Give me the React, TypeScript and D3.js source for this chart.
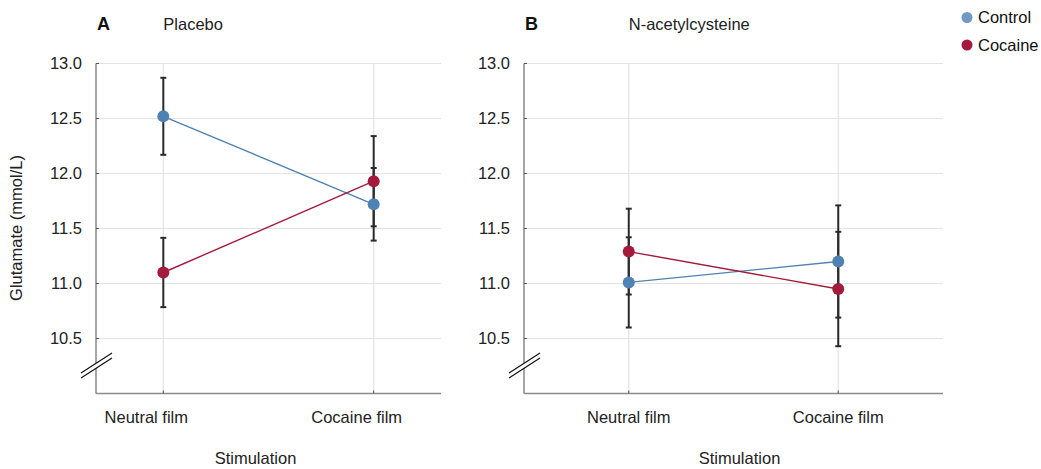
import React from "react";
import * as d3 from "d3";

const conditions = ["Neutral film", "Cocaine film"];
const groups = ["Control", "Cocaine"];

// Panel A: Placebo
const placeboControl = [12.52, 11.72];
const placeboControlErr = [0.35, 0.33];
const placeboCocaine = [11.1, 11.93];
const placeboCocaineErr = [0.315, 0.41];

// Panel B: N-acetylcysteine
const nacControl = [11.01, 11.2];
const nacControlErr = [0.41, 0.51];
const nacCocaine = [11.29, 10.95];
const nacCocaineErr = [0.39, 0.52];

const yTicks = [10.5, 11.0, 11.5, 12.0, 12.5, 13.0];
const yDomain: [number, number] = [10, 13];

const lineColors: Record<string, string> = { Control: "#4f82b3", Cocaine: "#a31a3c" };
const legendColors: Record<string, string> = { Control: "#6f98c2", Cocaine: "#a31a3c" };

const FONT = "'Liberation Sans', Arial, Helvetica, sans-serif";
const FS = 16.5;

type Series = { name: string; values: number[]; errs: number[] };

function Panel(props: {
  letter: string;
  title: string;
  x0: number;
  x1: number;
  padding: number;
  labelDx: number;
  stimDx: number;
  series: Series[];
}) {
  const { letter, title, x0, x1, padding, labelDx, stimDx, series } = props;
  const yTop = 63.5;
  const yBot = 393.5;
  const x = d3.scalePoint<string>().domain(conditions).range([x0, x1]).padding(padding);
  const y = d3.scaleLinear().domain(yDomain).range([yBot, yTop]);
  const line = d3
    .line<number>()
    .x((_, i) => x(conditions[i]) as number)
    .y((v) => y(v));

  const breakY = 368;
  return (
    <g>
      {/* grid */}
      {yTicks.map((t) => (
        <line key={"gy" + t} x1={x0} x2={x1} y1={y(t)} y2={y(t)} stroke="#e3e3e3" strokeWidth={1.2} />
      ))}
      {conditions.map((c) => (
        <line key={"gx" + c} x1={x(c)} x2={x(c)} y1={yTop} y2={yBot} stroke="#e3e3e3" strokeWidth={1.2} />
      ))}
      {/* axes */}
      <line x1={x0} x2={x0} y1={yTop} y2={yBot} stroke="#6a6a6a" strokeWidth={1.2} />
      <line x1={x0} x2={x1} y1={yBot} y2={yBot} stroke="#8a8a8a" strokeWidth={1.5} />
      {yTicks.map((t) => (
        <line key={"ty" + t} x1={x0} x2={x0 + 3} y1={y(t)} y2={y(t)} stroke="#555" strokeWidth={1} />
      ))}
      {yTicks.map((t) => (
        <text
          key={"ly" + t}
          x={x0 - 14}
          y={y(t)}
          dy="0.35em"
          textAnchor="end"
          fontFamily={FONT}
          fontSize={FS}
          fill="#222"
        >
          {d3.format(".1f")(t)}
        </text>
      ))}
      {conditions.map((c) => (
        <line key={"tx" + c} x1={x(c)} x2={x(c)} y1={yBot - 3} y2={yBot} stroke="#555" strokeWidth={1} />
      ))}
      {conditions.map((c) => (
        <text
          key={"lx" + c}
          x={(x(c) as number) + labelDx}
          y={423}
          textAnchor="middle"
          fontFamily={FONT}
          fontSize={FS}
          fill="#222"
        >
          {c}
        </text>
      ))}
      <text
        x={(x0 + x1) / 2 + stimDx}
        y={464}
        textAnchor="middle"
        fontFamily={FONT}
        fontSize={FS}
        fill="#222"
      >
        Stimulation
      </text>
      {/* axis break */}
      <polygon
        points={`${x0 - 15},${breakY + 10} ${x0 + 16},${breakY - 10} ${x0 + 16},${breakY - 15} ${x0 - 15},${breakY + 5}`}
        fill="#fff"
      />
      <line x1={x0 - 15} y1={breakY + 10} x2={x0 + 16} y2={breakY - 10} stroke="#111" strokeWidth={1.2} />
      <line x1={x0 - 15} y1={breakY + 5} x2={x0 + 16} y2={breakY - 15} stroke="#111" strokeWidth={1.2} />
      {/* titles */}
      <text x={x0 + 1} y={30} fontFamily={FONT} fontSize={18} fontWeight="bold" fill="#111">
        {letter}
      </text>
      <text x={x(conditions[0])} y={30} fontFamily={FONT} fontSize={FS} fill="#222">
        {title}
      </text>
      {/* lines */}
      {series.map((s) => (
        <path key={"p" + s.name} d={line(s.values) || ""} fill="none" stroke={lineColors[s.name]} strokeWidth={1.4} />
      ))}
      {/* error bars */}
      {series.map((s) =>
        s.values.map((v, i) => {
          const cx = x(conditions[i]) as number;
          const hi = y(v + s.errs[i]);
          const lo = y(v - s.errs[i]);
          return (
            <g key={"e" + s.name + i} stroke="#2a2a2a" strokeWidth={2}>
              <line x1={cx} x2={cx} y1={hi} y2={lo} />
              <line x1={cx - 3} x2={cx + 3} y1={hi} y2={hi} />
              <line x1={cx - 3} x2={cx + 3} y1={lo} y2={lo} />
            </g>
          );
        })
      )}
      {/* points */}
      {series.map((s) =>
        s.values.map((v, i) => (
          <circle key={"c" + s.name + i} cx={x(conditions[i])} cy={y(v)} r={6} fill={lineColors[s.name]} />
        ))
      )}
    </g>
  );
}

export default function App() {
  return (
    <svg
      width={1041}
      height={469}
      style={{ position: "absolute", left: 0, top: 0, background: "#fff" }}
    >
      <rect width={1041} height={469} fill="#fff" />
      <Panel
        letter="A"
        title="Placebo"
        x0={96}
        x1={441}
        padding={0.32}
        labelDx={-17}
        stimDx={-13}
        series={[
          { name: "Control", values: placeboControl, errs: placeboControlErr },
          { name: "Cocaine", values: placeboCocaine, errs: placeboCocaineErr },
        ]}
      />
      <Panel
        letter="B"
        title="N-acetylcysteine"
        x0={524}
        x1={943}
        padding={0.5}
        labelDx={0}
        stimDx={6}
        series={[
          { name: "Control", values: nacControl, errs: nacControlErr },
          { name: "Cocaine", values: nacCocaine, errs: nacCocaineErr },
        ]}
      />
      <text
        transform="translate(22,228) rotate(-90)"
        textAnchor="middle"
        fontFamily={FONT}
        fontSize={FS}
        fill="#222"
      >
        Glutamate (mmol/L)
      </text>
      {groups.map((g, i) => (
        <g key={"lg" + g}>
          <circle cx={967} cy={17.5 + i * 27.5} r={5.5} fill={legendColors[g]} />
          <text x={978} y={17.5 + i * 27.5} dy="0.35em" fontFamily={FONT} fontSize={FS} fill="#111">
            {g}
          </text>
        </g>
      ))}
    </svg>
  );
}
